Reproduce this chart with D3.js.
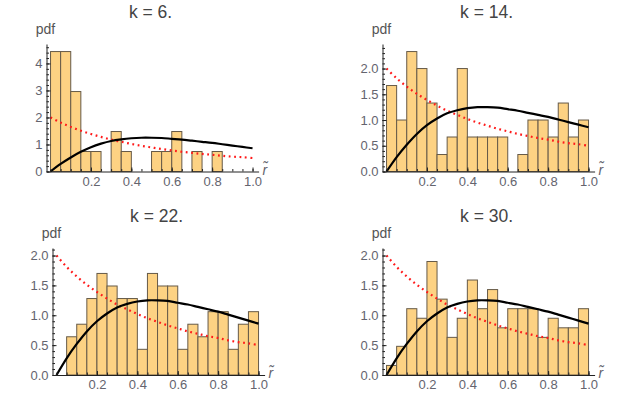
<!DOCTYPE html>
<html>
<head>
<meta charset="utf-8">
<script src="https://cdn.jsdelivr.net/npm/d3@7"></script>
<style>
  body { margin: 0; background: #fff; }
  svg { display: block; font-family: "Liberation Sans", Arial, sans-serif; }
  .tick text { fill: #64646e; font-size: 13px; }
  .domain, .tick line { stroke: #222; }
</style>
</head>
<body>
<svg id="chart" width="640" height="396"></svg>
<script>
// bins of width 0.05 on [0, 1]
var binStarts = [0, 0.05, 0.1, 0.15, 0.2, 0.25, 0.3, 0.35, 0.4, 0.45,
                 0.5, 0.55, 0.6, 0.65, 0.7, 0.75, 0.8, 0.85, 0.9, 0.95];
var binWidth = 0.05;

// histogram densities
var hist6  = [4.44, 4.44, 2.96, 0.74, 0.74, 0, 1.48, 0.74, 0, 0,
              0.74, 0.74, 1.48, 0, 0.74, 0, 0.74, 0, 0, 0];
var hist14 = [1.67, 1.0, 2.33, 2.0, 1.33, 0.33, 0.67, 2.0, 0.67, 0.67,
              0.67, 0.67, 0, 0.33, 1.0, 1.0, 0.67, 1.33, 0.67, 1.0];
var hist22 = [0, 0.64, 0.85, 1.28, 1.70, 1.49, 1.28, 1.28, 0.43, 1.70,
              1.49, 1.49, 0.43, 0.85, 0.64, 1.06, 1.06, 0.43, 0.85, 1.06];
var hist30 = [0.16, 0.48, 1.11, 0.95, 1.90, 1.27, 0.63, 0.95, 1.59, 1.11,
              1.43, 0.79, 1.11, 1.11, 1.11, 0.63, 0.95, 0.79, 0.79, 1.11];

// curves (same in all panels)
var curveR   = [0, 0.05, 0.1, 0.15, 0.2, 0.25, 0.3, 0.35, 0.4, 0.45, 0.5,
                0.55, 0.6, 0.65, 0.7, 0.75, 0.8, 0.85, 0.9, 0.95, 1.0];
var blackPdf = [0, 0.28, 0.52, 0.73, 0.90, 1.03, 1.13, 1.19, 1.23, 1.25, 1.25,
                1.24, 1.21, 1.18, 1.14, 1.10, 1.06, 1.01, 0.96, 0.91, 0.86];
var redPdf   = [2.0, 1.81, 1.65, 1.51, 1.39, 1.28, 1.18, 1.10, 1.02, 0.95, 0.89,
                0.83, 0.78, 0.73, 0.69, 0.65, 0.62, 0.58, 0.55, 0.53, 0.50];

var titles = ['k = 6.', 'k = 14.', 'k = 22.', 'k = 30.'];
var hists = [hist6, hist14, hist22, hist30];
var xTickValues = [0.2, 0.4, 0.6, 0.8, 1.0];
var yTicksBig = [0, 1, 2, 3, 4];
var yTicksSmall = [0, 0.5, 1.0, 1.5, 2.0];

// panel placement
var panels = [
    {left: 46.5,  bottom: 171.5, top: 44},
    {left: 382.5, bottom: 171.5, top: 44},
    {left: 52.5,  bottom: 375,   top: 248},
    {left: 382.5, bottom: 375,   top: 248}
];
var pxPerUnit = 202;

var svg = d3.select('#chart');

panels.forEach(function(p, i) {
    var hist = hists[i];
    var big = i === 0;
    var g = svg.append('g');

    var x = d3.scaleLinear()
        .domain([-0.02, 1.03])
        .range([p.left, p.left + 1.05 * pxPerUnit]);

    var yMax = Math.max(d3.max(hist), d3.max(redPdf)) * 1.063;
    var y = d3.scaleLinear().domain([0, yMax]).range([p.bottom, p.top]);

    // bars
    var bins = binStarts.map(function(b, j) { return {x0: b, v: hist[j]}; })
        .filter(function(d) { return d.v > 0; });
    g.selectAll('rect.bar')
        .data(bins)
        .enter().append('rect')
        .attr('class', 'bar')
        .attr('x', function(d) { return x(d.x0); })
        .attr('y', function(d) { return y(d.v); })
        .attr('width', function(d) { return x(d.x0 + binWidth) - x(d.x0); })
        .attr('height', function(d) { return y(0) - y(d.v); })
        .style('fill', '#fdd283')
        .style('stroke', '#665a48')
        .style('stroke-width', 1);

    // curves
    var line = d3.line()
        .x(function(d) { return x(d[0]); })
        .y(function(d) { return y(d[1]); })
        .curve(d3.curveCatmullRom);

    g.append('path')
        .datum(curveR.map(function(r, j) { return [r, redPdf[j]]; }))
        .attr('d', line)
        .style('fill', 'none')
        .style('stroke', '#ff1a1a')
        .style('stroke-width', 2.2)
        .style('stroke-dasharray', '1.8,3.6');

    g.append('path')
        .datum(curveR.map(function(r, j) { return [r, blackPdf[j]]; }))
        .attr('d', line)
        .style('fill', 'none')
        .style('stroke', '#000')
        .style('stroke-width', 2.2);

    // x axis (ticks point up)
    var xAxisG = g.append('g').attr('transform', 'translate(0,' + y(0) + ')');
    xAxisG.call(d3.axisBottom(x).tickValues(xTickValues)
        .tickFormat(d3.format('.1f'))
        .tickSizeInner(-4).tickSizeOuter(0).tickPadding(5));
    xAxisG.append('g').call(d3.axisBottom(x)
        .tickValues(d3.range(0, 21).map(function(k) { return k * 0.05; }))
        .tickFormat('').tickSizeInner(-2.5).tickSizeOuter(0))
        .select('.domain').remove();

    // y axis (ticks point right)
    var yAxisG = g.append('g').attr('transform', 'translate(' + x(-0.02) + ',0)');
    yAxisG.call(d3.axisLeft(y).tickValues(big ? yTicksBig : yTicksSmall)
        .tickFormat(big ? d3.format('d') : d3.format('.1f'))
        .tickSizeInner(-4).tickSizeOuter(0).tickPadding(4));
    var minorStep = big ? 0.2 : 0.1;
    yAxisG.append('g').call(d3.axisLeft(y)
        .tickValues(d3.range(0, Math.floor(yMax / minorStep) + 1).map(function(k) { return k * minorStep; }))
        .tickFormat('').tickSizeInner(-2.5).tickSizeOuter(0))
        .select('.domain').remove();

    // labels
    g.append('text')
        .attr('x', (x(-0.02) + x(1.03)) / 2 - 2)
        .attr('y', p.top - 26)
        .attr('text-anchor', 'middle')
        .style('font-size', '17.5px')
        .style('fill', '#444')
        .text(titles[i]);

    g.append('text')
        .attr('x', x(-0.02) - 1)
        .attr('y', p.top - 10)
        .attr('text-anchor', 'middle')
        .style('font-size', '14px')
        .style('fill', '#555')
        .text('pdf');

    g.append('text')
        .attr('x', x(1.03) + 4)
        .attr('y', y(0) + 3)
        .style('font-size', '14px')
        .style('font-style', 'italic')
        .style('fill', '#64646e')
        .text('r\u0303');
});
</script>
</body>
</html>
